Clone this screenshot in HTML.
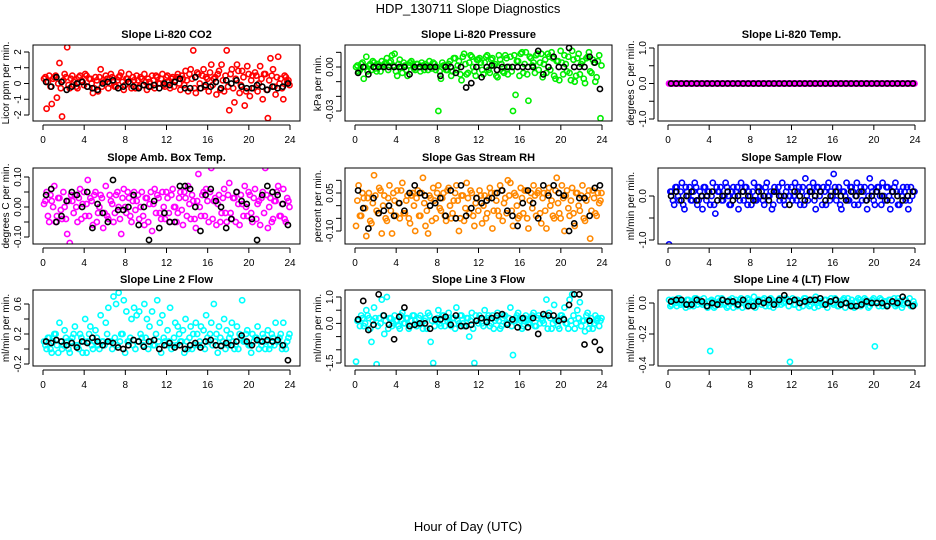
<!DOCTYPE html>
<html><head><meta charset="utf-8"><style>
body{margin:0;background:#fff;}
svg{display:block;font-family:"Liberation Sans",Arial,sans-serif;}
</style></head><body>
<svg id="chart" width="936" height="540" viewBox="0 0 936 540">
<rect width="936" height="540" fill="#fff"/>
<text x="468" y="13" font-size="13" text-anchor="middle">HDP_130711  Slope Diagnostics</text>
<text x="468" y="531" font-size="13" text-anchor="middle">Hour of Day (UTC)</text>
</svg>
<script>
const tC=[0.1,0.35,0.6,0.85,1.1,1.35,1.6,1.85,2.1,2.35,2.6,2.85,
3.1,3.35,3.6,3.85,4.1,4.35,4.6,4.85,5.1,5.35,5.6,5.85,
6.1,6.35,6.6,6.85,7.1,7.35,7.6,7.85,8.1,8.35,8.6,8.85,
9.1,9.35,9.6,9.85,10.1,10.35,10.6,10.85,11.1,11.35,11.6,11.85,
12.1,12.35,12.6,12.85,13.1,13.35,13.6,13.85,14.1,14.35,14.6,14.85,
15.1,15.35,15.6,15.85,16.1,16.35,16.6,16.85,17.1,17.35,17.6,17.85,
18.1,18.35,18.6,18.85,19.1,19.35,19.6,19.85,20.1,20.35,20.6,20.85,
21.1,21.35,21.6,21.85,22.1,22.35,22.6,22.85,23.1,23.35,23.6,23.85];
const tC2=[0.23,0.48,0.73,0.98,1.23,1.48,1.73,1.98,2.23,2.48,2.73,2.98,
3.23,3.48,3.73,3.98,4.23,4.48,4.73,4.98,5.23,5.48,5.73,5.98,
6.23,6.48,6.73,6.98,7.23,7.48,7.73,7.98,8.23,8.48,8.73,8.98,
9.23,9.48,9.73,9.98,10.23,10.48,10.73,10.98,11.23,11.48,11.73,11.98,
12.23,12.48,12.73,12.98,13.23,13.48,13.73,13.98,14.23,14.48,14.73,14.98,
15.23,15.48,15.73,15.98,16.23,16.48,16.73,16.98,17.23,17.48,17.73,17.98,
18.23,18.48,18.73,18.98,19.23,19.48,19.73,19.98,20.23,20.48,20.73,20.98,
21.23,21.48,21.73,21.98,22.23,22.48,22.73,22.98,23.23,23.48,23.73,23.95];
const tK=[0.3,0.8,1.3,1.8,2.3,2.8,3.3,3.8,4.3,4.8,5.3,5.8,
6.3,6.8,7.3,7.8,8.3,8.8,9.3,9.8,10.3,10.8,11.3,11.8,
12.3,12.8,13.3,13.8,14.3,14.8,15.3,15.8,16.3,16.8,17.3,17.8,
18.3,18.8,19.3,19.8,20.3,20.8,21.3,21.8,22.3,22.8,23.3,23.8];
const xTicks=[0,4,8,12,16,20,24];

const co2C=[0.3,-1.6,0.5,-1.3,0.4,-0.9,1.3,-2.1,0.6,2.3,-0.3,0.5,
0.2,-0.3,0.5,0.1,0.6,-0.2,0.3,-0.6,0.4,-0.5,0.9,0.2,
0.5,-0.3,0.6,0.1,-0.2,0.4,0.7,-0.4,0.3,0.6,-0.3,0.2,
0.5,-0.2,0.3,0.6,-0.4,0.1,0.5,-0.3,0.4,0.0,0.6,-0.2,
0.5,-0.3,0.4,0.2,0.6,-0.4,0.3,0.8,-0.5,0.9,2.1,-0.6,
0.6,-0.3,0.9,0.4,-0.5,1.2,0.3,-0.7,0.8,1.2,-0.5,2.1,
-1.7,0.9,-1.2,1.2,-0.6,0.8,-1.4,1.1,-0.8,0.5,0.7,-0.5,
1.1,-1.0,0.6,-2.2,1.6,0.9,-0.7,1.7,0.3,-1.0,0.4,0.2];
const co2C2=[0.4,0.1,-0.2,0.3,0.5,0.0,-0.3,0.2,0.4,-0.1,0.3,0.1,
-0.2,0.4,0.2,-0.1,0.5,0.3,0.0,-0.3,0.2,0.4,-0.2,0.1,
0.3,0.0,0.4,-0.2,0.2,0.5,0.1,-0.1,0.3,0.0,0.4,-0.3,
0.2,0.4,-0.1,0.1,0.3,-0.2,0.2,0.5,0.0,0.3,-0.1,0.4,
0.1,0.3,-0.2,0.4,0.0,0.5,-0.1,0.2,0.6,0.3,-0.3,0.7,
0.0,0.5,-0.2,0.3,0.7,-0.1,0.4,0.6,-0.4,0.2,0.5,-0.2,
0.6,-0.3,0.3,0.8,-0.1,0.4,-0.5,0.6,0.2,-0.3,0.5,0.0,
0.3,0.6,-0.4,0.2,0.5,-0.2,0.4,0.0,-0.3,0.5,0.1,-0.1];
const co2K=[0.1,-0.2,0.4,0.1,-0.4,-0.2,0.0,0.1,-0.2,-0.3,-0.4,0.0,
0.1,0.2,-0.3,-0.2,0.1,-0.2,-0.3,-0.1,-0.2,-0.1,-0.3,0.0,
-0.1,0.1,0.3,-0.3,-0.3,0.4,-0.3,-0.1,-0.2,0.1,-0.3,0.2,
0.0,0.2,-0.2,-0.3,-0.3,-0.1,-0.2,-0.4,-0.2,-0.3,-0.2,0.0];

const presC=[0.000,-0.003,0.002,-0.008,0.007,0.001,-0.002,0.003,-0.003,0.001,0.004,0.002,
0.006,0.003,0.008,0.009,-0.006,0.005,-0.004,0.001,-0.006,0.003,0.002,-0.002,
0.002,-0.003,0.001,0.002,-0.002,0.001,0.003,-0.002,-0.030,-0.008,0.001,-0.002,
0.002,-0.006,0.006,-0.002,0.004,-0.009,0.009,-0.005,0.003,0.007,-0.003,0.005,
0.006,-0.002,0.003,0.008,-0.004,0.006,0.002,-0.007,0.005,-0.003,0.008,-0.005,
0.007,-0.030,-0.019,0.004,0.009,-0.004,0.010,-0.023,0.006,0.003,0.008,-0.002,
0.009,0.002,-0.004,0.007,0.010,-0.006,0.004,-0.009,0.003,0.008,-0.003,-0.004,
0.011,-0.010,0.006,-0.005,0.004,-0.011,0.007,-0.003,0.005,-0.010,0.004,-0.035];
const presC2=[0.001,-0.002,0.003,0.000,-0.003,0.002,0.004,-0.001,0.002,-0.003,0.001,0.003,
-0.002,0.004,0.001,-0.003,0.002,0.000,0.003,-0.002,0.001,0.004,-0.001,0.002,
0.000,0.003,-0.002,0.001,0.004,-0.001,0.002,0.000,-0.003,0.003,0.001,-0.002,
0.004,-0.003,0.006,0.001,-0.005,0.007,0.002,-0.004,0.008,0.000,-0.006,0.005,
0.003,-0.005,0.007,-0.002,0.005,0.001,-0.006,0.008,0.002,-0.004,0.006,0.000,
-0.003,0.008,0.004,-0.006,0.010,0.002,-0.005,0.007,0.001,-0.004,0.009,0.003,
-0.007,0.005,0.009,-0.002,0.006,-0.008,0.004,0.011,-0.005,0.002,0.007,-0.009,
0.005,-0.006,0.009,0.002,-0.008,0.006,0.010,-0.004,0.003,-0.007,0.008,0.001];
const presK=[-0.004,0.000,-0.005,0.000,0.000,0.000,0.000,0.000,0.000,0.000,-0.005,0.000,
0.000,0.000,0.000,0.000,-0.006,0.000,0.000,-0.004,0.000,-0.014,-0.011,0.000,
-0.007,0.000,0.001,-0.002,0.000,0.000,0.000,0.000,0.000,0.000,0.000,0.011,
-0.005,0.000,0.007,0.000,0.000,0.013,0.000,0.000,0.000,0.007,0.003,-0.015];

const tempC=[0,0,0,0,0,0,0,0,0,0,0,0,0,0,0,0,0,0,0,0,0,0,0,0,
0,0,0,0,0,0,0,0,0,0,0,0,0,0,0,0,0,0,0,0,0,0,0,0,
0,0,0,0,0,0,0,0,0,0,0,0,0,0,0,0,0,0,0,0,0,0,0,0,
0,0,0,0,0,0,0,0,0,0,0,0,0,0,0,0,0,0,0,0,0,0,0,0];
const tempC2=[0,0,0,0,0,0,0,0,0,0,0,0,0,0,0,0,0,0,0,0,0,0,0,0,
0,0,0,0,0,0,0,0,0,0,0,0,0,0,0,0,0,0,0,0,0,0,0,0,
0,0,0,0,0,0,0,0,0,0,0,0,0,0,0,0,0,0,0,0,0,0,0,0,
0,0,0,0,0,0,0,0,0,0,0,0,0,0,0,0,0,0,0,0,0,0,0,0];
const tempK=[0,0,0,0,0,0,0,0,0,0,0,0,0,0,0,0,0,0,0,0,0,0,0,0,
0,0,0,0,0,0,0,0,0,0,0,0,0,0,0,0,0,0,0,0,0,0,0,0];

const ambC=[0.01,0.05,-0.05,0.02,0.07,-0.03,0.03,-0.04,0.00,-0.09,-0.12,0.02,
0.04,-0.05,0.06,0.01,-0.03,0.09,0.03,-0.06,0.05,-0.02,0.04,-0.07,
0.07,-0.04,0.02,-0.05,0.04,0.00,-0.09,0.06,-0.02,0.03,-0.05,0.05,
0.02,-0.04,0.05,-0.06,0.03,0.01,-0.08,0.06,0.04,-0.02,0.05,-0.04,
0.03,-0.05,0.06,0.00,-0.02,0.05,-0.06,0.03,0.07,-0.04,0.02,-0.07,
0.11,-0.03,0.05,0.06,-0.05,0.13,0.02,-0.06,0.04,-0.02,0.06,-0.05,
0.08,-0.04,0.03,0.05,-0.06,0.01,0.07,-0.03,0.04,-0.05,0.06,0.01,
-0.06,0.05,0.13,-0.07,0.03,-0.04,0.02,0.07,-0.03,0.06,-0.05,0.02];
const ambC2=[0.02,-0.03,0.04,0.00,-0.05,0.03,-0.01,0.05,-0.04,0.02,0.04,-0.02,
0.00,0.03,-0.04,0.05,0.01,-0.03,0.02,0.04,-0.05,0.00,0.03,-0.02,
-0.03,0.04,0.01,-0.02,0.05,-0.04,0.03,0.00,0.05,-0.03,0.02,-0.01,
0.04,0.00,-0.03,0.03,-0.05,0.05,0.01,-0.02,0.03,-0.04,0.00,0.05,
-0.02,0.04,0.00,-0.05,0.03,-0.01,0.05,-0.03,0.01,0.04,-0.04,0.02,
0.00,0.04,-0.03,0.02,0.05,-0.04,0.03,0.01,-0.05,0.03,-0.02,0.04,
-0.02,0.03,-0.05,0.01,0.04,-0.03,0.00,0.05,-0.02,0.03,-0.04,0.02,
0.03,-0.02,0.04,0.00,-0.05,0.02,0.05,-0.03,0.01,-0.04,0.03,0.00];
const ambK=[0.04,0.06,-0.05,-0.03,0.02,0.05,0.04,0.00,0.05,-0.07,0.01,-0.02,
-0.05,0.09,-0.01,-0.01,0.00,0.04,-0.06,0.00,-0.11,0.02,-0.07,-0.02,
-0.05,-0.05,0.07,0.07,0.06,0.00,-0.08,0.04,0.06,0.02,0.00,-0.07,
-0.04,0.05,0.02,0.01,-0.04,-0.11,0.04,0.07,0.05,0.04,0.01,-0.06];

const rhC=[-0.08,0.08,-0.04,0.03,-0.12,0.05,-0.07,0.12,-0.02,0.07,-0.11,0.04,
-0.06,0.08,-0.11,0.02,0.06,-0.05,0.09,-0.03,0.04,-0.07,0.05,-0.10,
0.06,-0.04,0.11,-0.08,-0.11,0.03,0.07,-0.05,0.08,-0.02,0.05,-0.06,
0.07,-0.05,0.02,0.08,-0.10,0.04,-0.06,0.09,-0.03,0.05,-0.08,0.03,
0.06,-0.07,0.04,-0.03,0.07,-0.09,0.05,-0.02,0.08,-0.06,0.03,0.10,
0.09,-0.08,0.04,-0.05,0.07,-0.03,0.06,-0.09,0.05,0.08,-0.04,0.06,
-0.07,0.05,-0.09,0.07,0.02,-0.05,0.11,-0.03,0.08,-0.10,0.06,-0.04,
0.07,-0.08,0.05,-0.02,0.08,-0.06,0.04,-0.13,0.06,-0.03,0.05,0.02];
const rhC2=[0.02,-0.04,0.05,-0.01,0.03,-0.06,0.01,0.04,-0.03,0.06,0.00,-0.05,
0.03,-0.02,0.05,-0.04,0.01,0.06,-0.03,0.02,-0.05,0.04,0.00,0.03,
-0.04,0.05,0.01,-0.02,0.04,-0.06,0.02,0.05,-0.01,0.03,-0.04,0.06,
0.00,-0.03,0.05,0.02,-0.05,0.04,-0.01,0.03,0.06,-0.04,0.01,-0.02,
0.04,0.00,-0.05,0.03,0.05,-0.02,0.02,-0.04,0.06,0.01,-0.03,0.04,
-0.02,0.05,0.00,-0.04,0.03,0.06,-0.05,0.02,-0.01,0.04,0.05,-0.03,
0.03,-0.02,0.05,0.00,-0.04,0.06,0.01,-0.05,0.03,0.04,-0.01,0.02,
-0.03,0.05,0.00,0.04,-0.05,0.02,0.06,-0.02,0.03,-0.04,0.01,0.05];
const rhK=[0.06,-0.01,-0.09,0.03,-0.03,-0.02,0.00,-0.04,0.01,-0.02,0.05,0.08,
0.05,0.04,0.00,0.01,0.03,-0.04,0.06,-0.05,0.08,-0.04,-0.01,0.03,
0.01,0.02,0.03,0.05,0.06,-0.02,-0.04,-0.08,0.01,0.06,0.01,-0.05,
0.08,0.04,0.08,0.05,0.04,-0.10,-0.07,0.03,0.03,-0.04,0.07,0.08];

const sampC=[-1.1,0.1,-0.2,0.2,-0.1,0.3,-0.3,0.1,0.2,-0.1,0.3,-0.2,
0.1,-0.3,0.2,0.1,-0.2,0.3,-0.4,0.1,0.2,-0.1,0.3,0.0,
-0.2,0.2,0.1,-0.3,0.3,-0.1,0.2,0.1,-0.2,0.3,-0.1,0.2,
0.1,-0.2,0.3,0.0,-0.3,0.2,0.1,-0.1,0.3,-0.2,0.2,0.0,
-0.1,0.3,0.1,-0.2,0.2,0.4,-0.1,0.1,0.3,-0.3,0.2,0.1,
0.2,-0.2,0.3,0.1,0.5,-0.1,0.2,-0.3,0.1,0.3,-0.1,0.2,
-0.2,0.3,0.1,-0.1,0.2,-0.3,0.4,0.1,-0.2,0.2,0.0,0.3,
-0.1,0.2,-0.3,0.1,0.3,-0.2,0.1,0.2,-0.1,-0.3,0.2,0.1];
const sampC2=[0.1,-0.1,0.2,0.0,0.1,-0.2,0.2,0.0,-0.1,0.1,0.2,-0.1,
0.0,0.2,-0.1,0.1,0.0,-0.2,0.2,0.1,-0.1,0.0,0.2,-0.2,
0.1,0.0,0.2,-0.1,0.1,0.2,-0.2,0.0,0.1,-0.1,0.2,0.0,
-0.1,0.2,0.0,0.1,-0.2,0.1,0.2,0.0,-0.1,0.1,0.0,0.2,
0.0,-0.1,0.2,0.1,-0.2,0.0,0.2,0.1,-0.1,0.2,0.0,-0.2,
0.1,0.2,-0.1,0.0,0.2,0.1,-0.2,0.1,0.0,-0.1,0.2,0.1,
0.0,-0.2,0.2,0.1,-0.1,0.0,0.2,-0.1,0.1,0.2,-0.2,0.0,
0.2,0.0,-0.1,0.2,0.1,-0.2,0.0,0.1,0.2,-0.1,0.0,0.1];
const sampK=[0.0,0.1,-0.1,0.0,0.1,-0.1,0.0,0.0,0.1,-0.1,0.0,0.1,
-0.1,0.0,0.1,0.0,-0.1,0.1,0.0,-0.1,0.1,0.0,0.0,-0.2,
0.1,0.0,-0.1,0.1,0.0,0.1,-0.1,0.0,0.1,0.0,-0.1,0.1,
0.0,0.1,-0.1,0.0,0.1,0.0,-0.1,0.1,0.0,-0.1,0.0,0.1];

const l2C=[0.1,0.0,0.15,-0.05,0.2,0.05,0.35,0.0,0.25,0.1,-0.05,0.15,
0.3,0.05,0.2,-0.05,0.4,0.1,0.3,0.0,0.25,0.05,0.45,0.1,
0.35,0.55,0.1,0.7,0.6,0.75,0.2,0.65,0.5,0.1,0.4,0.55,
0.45,0.5,0.15,0.6,0.4,0.3,0.5,0.05,0.65,0.35,0.45,0.1,
0.25,0.55,0.05,0.35,0.3,0.1,0.25,0.4,0.0,0.3,0.2,0.35,
0.05,0.3,0.25,0.45,0.1,0.35,0.6,0.2,0.3,0.05,0.4,0.25,
0.15,0.35,0.0,0.3,0.2,0.65,0.1,0.25,0.05,0.2,0.15,0.3,
0.1,0.2,0.0,0.25,0.05,0.15,0.35,0.1,0.2,0.35,0.0,0.15];
const l2C2=[0.05,0.15,0.0,0.1,0.2,-0.05,0.1,0.05,0.15,0.0,0.1,0.2,
0.05,0.0,0.15,0.1,-0.05,0.2,0.05,0.1,0.15,0.0,0.1,0.05,
0.2,0.1,0.0,0.15,0.05,0.1,0.2,-0.05,0.1,0.15,0.05,0.0,
0.1,0.2,0.05,0.15,0.0,0.1,0.05,0.2,0.1,-0.05,0.15,0.05,
0.1,0.0,0.15,0.05,0.2,0.1,-0.05,0.1,0.15,0.0,0.05,0.2,
0.1,0.05,0.0,0.15,0.2,0.05,0.1,-0.05,0.15,0.1,0.0,0.05,
0.2,0.1,0.05,0.0,0.15,0.1,0.2,0.05,-0.05,0.1,0.15,0.0,
0.05,0.15,0.1,0.0,0.2,0.05,0.1,0.15,0.0,0.05,0.1,0.2];
const l2K=[0.1,0.08,0.12,0.1,0.05,0.08,0.02,0.1,0.08,0.15,0.1,0.05,
0.1,0.08,0.02,0.0,0.05,0.12,0.1,0.03,0.1,0.12,0.0,0.05,
0.08,0.02,0.05,0.0,0.05,0.08,0.02,0.1,0.12,0.05,0.04,0.08,
0.05,0.1,0.18,0.1,0.05,0.12,0.1,0.12,0.1,0.12,0.05,-0.15];

const l3C=[-1.45,0.1,0.3,-0.1,0.5,0.2,-0.7,0.6,-1.55,0.2,0.9,-0.4,
1.0,0.2,-0.1,0.3,0.1,-0.2,0.4,0.0,0.2,-0.1,0.3,0.1,
0.0,0.3,-0.2,0.2,0.4,-0.7,-1.5,0.1,0.5,-0.1,0.3,0.2,
0.4,-0.1,0.2,0.6,0.0,0.3,-0.1,0.2,-0.5,0.4,-1.5,0.1,
0.3,0.0,0.5,0.2,-0.1,0.3,0.1,0.4,-0.2,0.2,0.3,0.0,
0.6,-1.2,0.2,0.4,0.1,-0.1,0.3,0.0,0.2,0.4,-0.1,0.3,
0.2,0.0,0.9,0.4,-0.2,0.7,0.1,-0.2,0.3,0.6,0.0,0.9,
1.1,-0.2,0.5,0.8,0.1,-0.3,0.4,0.0,-0.2,0.3,0.2,0.1];
const l3C2=[0.1,-0.1,0.2,0.0,0.3,-0.2,0.1,0.2,-0.1,0.0,0.3,0.1,
-0.2,0.2,0.0,0.1,-0.1,0.3,0.0,0.2,-0.2,0.1,0.3,-0.1,
0.2,0.0,0.1,-0.2,0.3,0.1,-0.1,0.2,0.0,0.3,-0.1,0.1,
0.0,0.2,-0.2,0.1,0.3,0.0,-0.1,0.2,0.1,-0.2,0.3,0.0,
0.2,-0.1,0.1,0.3,0.0,-0.2,0.2,0.1,-0.1,0.3,0.0,0.2,
-0.1,0.1,0.3,0.0,-0.2,0.2,0.1,0.0,0.3,-0.1,0.2,0.0,
0.1,0.3,-0.2,0.2,0.0,0.1,-0.1,0.3,0.2,0.0,-0.2,0.1,
0.3,0.0,0.2,-0.1,0.1,0.3,-0.2,0.2,0.0,0.1,-0.1,0.2];
const l3K=[0.15,0.85,-0.25,-0.05,1.1,0.3,-0.05,-0.6,0.25,0.6,-0.1,-0.05,
0.0,0.0,-0.2,0.15,0.15,0.25,-0.05,0.3,-0.1,-0.1,-0.05,0.1,
0.2,0.05,0.2,0.3,0.35,-0.05,0.15,-0.15,0.2,-0.15,0.2,-0.4,
0.35,0.3,0.3,0.1,0.15,0.7,1.1,1.1,-0.8,0.1,-0.7,-1.0];

const l4C=[0.02,-0.01,0.01,-0.02,0.03,0.0,-0.01,0.02,-0.02,0.01,0.03,-0.01,
0.02,-0.01,0.0,-0.03,-0.31,0.01,-0.02,0.03,-0.01,0.02,0.0,-0.02,
0.01,-0.03,0.02,-0.01,0.03,0.0,-0.02,0.02,0.01,0.04,-0.01,0.02,
-0.01,0.03,0.01,-0.02,0.02,0.0,-0.01,0.03,0.02,0.01,0.02,-0.38,
0.03,-0.01,0.02,0.0,-0.02,0.03,0.01,-0.01,0.02,0.04,-0.02,0.01,
-0.01,0.02,0.0,0.03,-0.01,0.02,-0.02,0.01,0.03,0.0,-0.01,0.02,
-0.03,0.01,0.02,-0.01,0.03,0.0,-0.02,0.02,-0.28,0.01,0.03,-0.02,
0.01,-0.01,0.02,0.0,-0.02,0.03,0.01,-0.01,0.02,0.0,-0.02,0.01];
const l4C2=[-0.02,0.02,0.0,0.03,-0.01,0.01,-0.03,0.02,0.0,-0.02,0.03,0.01,
0.0,0.03,-0.02,0.01,0.02,-0.03,0.0,0.01,0.03,-0.01,-0.03,0.02,
0.03,0.0,-0.02,0.02,-0.03,0.01,0.03,-0.01,0.0,-0.03,0.02,0.01,
0.02,-0.02,0.0,0.03,-0.03,0.01,0.02,-0.01,0.0,0.03,-0.02,0.01,
-0.01,0.02,-0.03,0.01,0.03,0.0,-0.02,0.02,-0.03,0.0,0.03,-0.01,
0.02,-0.03,0.01,0.0,0.03,-0.02,0.01,0.02,-0.03,0.03,0.0,-0.02,
0.01,0.03,-0.02,0.0,0.02,-0.03,0.01,0.03,0.0,-0.02,0.02,0.01,
-0.02,0.02,0.0,0.03,-0.01,0.01,-0.03,0.02,0.0,0.03,-0.02,-0.01];
const l4K=[0.01,0.02,0.02,-0.01,-0.01,0.02,0.01,-0.02,0.0,-0.01,0.02,0.01,
0.01,-0.01,0.02,-0.02,-0.02,0.01,0.0,0.02,-0.01,0.02,0.05,0.01,
0.02,0.0,0.01,0.02,0.02,0.03,-0.01,0.01,0.02,-0.01,0.0,-0.02,
-0.02,-0.01,0.01,0.0,0.0,0.0,-0.02,0.01,0.0,0.04,0.0,-0.02];

const panels=[
 {name:'co2',title:'Slope Li-820 CO2',ylab:'Licor ppm per min.',col:0,row:0,color:'#ff0000',c:co2C,c2:co2C2,k:co2K,
  v0:2,p0:52,v1:-2,p1:115,ticks:[-2,-1,0,1,2],labels:['-2','-1','0','1','2']},
 {name:'pressure',title:'Slope Li-820 Pressure',ylab:'kPa per min.',col:1,row:0,color:'#00ee00',c:presC,c2:presC2,k:presK,
  v0:0,p0:67,v1:-0.03,p1:111,ticks:[0.01,0,-0.01,-0.02,-0.03],labels:['','0.00','','','-0.03']},
 {name:'temp',title:'Slope Li-820 Temp.',ylab:'degrees C per min.',col:2,row:0,color:'#ff00ff',c:tempC,c2:tempC2,k:tempK,
  v0:1,p0:48,v1:-1,p1:119,ticks:[1,0.5,0,-0.5,-1],labels:['1.0','','0.0','','-1.0']},
 {name:'amb-box-temp',title:'Slope Amb. Box Temp.',ylab:'degrees C per min.',col:0,row:1,color:'#ff00ff',c:ambC,c2:ambC2,k:ambK,
  v0:0.1,p0:177,v1:-0.1,p1:237,ticks:[0.1,0.05,0,-0.05,-0.1],labels:['0.10','','0.00','','-0.10']},
 {name:'gas-stream-rh',title:'Slope Gas Stream RH',ylab:'percent per min.',col:1,row:1,color:'#ff8800',c:rhC,c2:rhC2,k:rhK,
  v0:0.05,p0:193,v1:-0.1,p1:231,ticks:[0.1,0.05,0,-0.05,-0.1],labels:['','0.05','','','-0.10']},
 {name:'sample-flow',title:'Slope Sample Flow',ylab:'ml/min per min.',col:2,row:1,color:'#0000ff',c:sampC,c2:sampC2,k:sampK,
  v0:0,p0:196,v1:-1,p1:240,ticks:[0,-0.5,-1],labels:['0.0','','-1.0']},
 {name:'line2-flow',title:'Slope Line 2 Flow',ylab:'ml/min per min.',col:0,row:2,color:'#00ffff',c:l2C,c2:l2C2,k:l2K,
  v0:0.6,p0:304,v1:-0.2,p1:364,ticks:[0.6,0.4,0.2,0,-0.2],labels:['0.6','','0.2','','-0.2']},
 {name:'line3-flow',title:'Slope Line 3 Flow',ylab:'ml/min per min.',col:1,row:2,color:'#00ffff',c:l3C,c2:l3C2,k:l3K,
  v0:1,p0:297,v1:-1.5,p1:363,ticks:[1,0.5,0,-0.5,-1,-1.5],labels:['1.0','','0.0','','','-1.5']},
 {name:'line4-flow',title:'Slope Line 4 (LT) Flow',ylab:'ml/min per min.',col:2,row:2,color:'#00ffff',c:l4C,c2:l4C2,k:l4K,
  v0:0,p0:303,v1:-0.4,p1:365,ticks:[0,-0.2,-0.4],labels:['0.0','-0.2','-0.4']}
];
const colLeft=[33,345,658], rowTop=[45,168,290], boxW=267, boxH=76;
const svg=document.getElementById('chart');
const NS='http://www.w3.org/2000/svg';
function mk(tag,attrs,parent){const e=document.createElementNS(NS,tag);for(const k in attrs)e.setAttribute(k,attrs[k]);(parent||svg).appendChild(e);return e;}
panels.forEach(p=>{
  const L=colLeft[p.col],T=rowTop[p.row],B=T+boxH;
  const xs=h=>L+10+h*(247/24);
  const ys=v=>p.p0+(v-p.v0)*(p.p1-p.p0)/(p.v1-p.v0);
  const g=mk('g',{});
  
  
  const clip=mk('clipPath',{id:'clip-'+p.name},g);
  mk('rect',{x:L,y:T,width:boxW,height:boxH},clip);
  const pts=mk('g',{'clip-path':'url(#clip-'+p.name+')'},g);
  p.c2.forEach((v,i)=>{
    const c=mk('circle',{cx:xs(tC2[i]),cy:ys(v),r:2.6,fill:'none',stroke:p.color,'stroke-width':1.6},pts);
    
    
  });
  p.c.forEach((v,i)=>{
    const c=mk('circle',{cx:xs(tC[i]),cy:ys(v),r:2.6,fill:'none',stroke:p.color,'stroke-width':1.6},pts);
    
    
  });
  p.k.forEach((v,i)=>{
    const c=mk('circle',{cx:xs(tK[i]),cy:ys(v),r:2.6,fill:'none',stroke:'#000','stroke-width':1.6},pts);
    
    
  });
  const box=mk('rect',{x:L,y:T,width:boxW,height:boxH,fill:'none',stroke:'#000','stroke-width':1},g);
  
  
  const t=mk('text',{x:L+boxW/2,y:T-7,'font-size':11,'font-weight':'bold','text-anchor':'middle'},g);
  t.textContent=p.title;
  
  
  mk('line',{x1:xs(0),x2:xs(24),y1:B+4,y2:B+4,stroke:'#000'},g);
  xTicks.forEach(h=>{
    mk('line',{x1:xs(h),x2:xs(h),y1:B+4,y2:B+9,stroke:'#000'},g);
    const tl=mk('text',{x:xs(h),y:B+22,'font-size':10,'text-anchor':'middle'},g);
    tl.textContent=h;
    
    
  });
  const ty=p.ticks.map(ys);
  mk('line',{x1:L-4,x2:L-4,y1:Math.min(...ty),y2:Math.max(...ty),stroke:'#000'},g);
  p.ticks.forEach((v,i)=>{
    const y=ys(v);
    mk('line',{x1:L-9,x2:L-4,y1:y,y2:y,stroke:'#000'},g);
    if(p.labels[i]){
      const yl=mk('text',{x:L-12,y:y,'font-size':10,'text-anchor':'middle',transform:'rotate(-90 '+(L-12)+' '+y+')'},g);
      yl.textContent=p.labels[i];
      
      
    }
  });
  const cy=T+boxH/2;
  const yt=mk('text',{x:L-24,y:cy,'font-size':10,'text-anchor':'middle',transform:'rotate(-90 '+(L-24)+' '+cy+')'},g);
  yt.textContent=p.ylab;
  
  
});
</script>
</body></html>
